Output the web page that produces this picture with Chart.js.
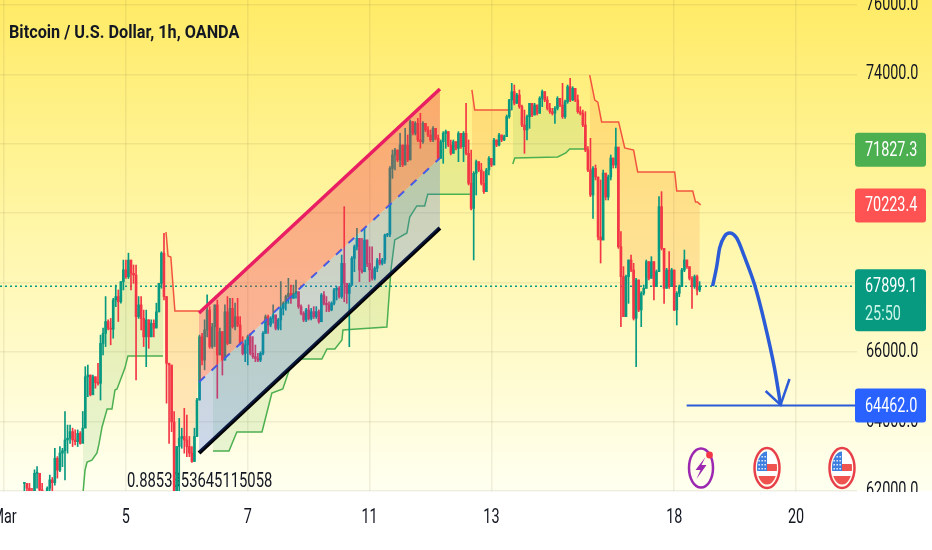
<!DOCTYPE html>
<html>
<head>
<meta charset="utf-8">
<title>Bitcoin / U.S. Dollar</title>
<script src="https://cdn.jsdelivr.net/npm/chart.js@4"></script>
<style>
    html, body { margin: 0; padding: 0; background: #fff; }
    canvas { display: block; }
</style>
</head>
<body>
<canvas id="chart" width="932" height="550"></canvas>
<script>
const titleText = "Bitcoin / U.S. Dollar, 1h, OANDA";
const noteText = "0.8853353645115058";
const firstBar = 8;

const barClose = [
    62220, 62080, 61980, 61880, 62510, 62510, 62030, 61880, 61840, 62080, 62320, 62240, 62940, 62600, 63090, 63160, 63470, 63520, 63710, 63470,
    63420, 63660, 63370, 63810, 65290, 65340, 64770, 65290, 65120, 65100, 66250, 66540, 66880, 66690, 66660, 67500, 67600, 67450, 68030, 68370,
    68170, 68650, 68270, 68220, 67020, 67360, 66970, 66440, 66930, 66440, 66830, 66690, 67160, 67980, 68850, 67600, 65680, 65630, 63990, 61840,
    63280, 63520, 63570, 63470, 63280, 63090, 62850, 63570, 64620, 66440, 65770, 66640, 67210, 66160, 66730, 67360, 65920, 66590, 65770, 67160,
    66250, 67260, 66730, 67020, 66780, 66250, 65960, 66205, 66445, 65965, 65870, 65820, 65770, 65965, 66540, 67020, 66780, 66970, 67070, 66685,
    66925, 67260, 67405, 67600, 67690, 67550, 67690, 67740, 67310, 67120, 66925, 67215, 66970, 67165, 67020, 67165, 66875, 67645, 67405, 67360,
    67215, 67405, 67790, 67835, 67600, 68555, 67980, 67690, 67930, 68700, 69035, 69275, 68365, 68315, 69230, 68555, 68365, 68125, 68415, 68650,
    68555, 68650, 69370, 69400, 71290, 71675, 71820, 71535, 71965, 71390, 71965, 71535, 72637, 72300, 72590, 72110, 72060, 72590, 72397, 72253,
    72110, 72445, 72157, 71580, 72060, 72300, 72350, 71965, 71725, 72060, 71870, 72300, 71917, 72300, 71725, 70860, 70140, 71150, 71485, 71245,
    70860, 70620, 71245, 71581, 71389, 72109, 71965, 72253, 72109, 72205, 72781, 73261, 73501, 73165, 73405, 73069, 72541, 72397, 72781, 73165,
    72829, 73117, 72877, 73309, 73501, 73261, 73021, 72925, 72877, 73021, 73309, 73117, 72781, 73213, 73645, 73261, 73597, 73261, 72925, 72877,
    72541, 71821, 71245, 70525, 71293, 71043, 69315, 69229, 71158, 70467, 71043, 71590, 71389, 71907, 69037, 68173, 67021, 68173, 68653, 68365,
    66973, 68077, 67213, 67693, 67837, 68605, 68125, 68605, 67885, 68317, 70189, 68989, 67837, 68365, 67885, 68365, 67213, 67693, 67885, 68365,
    68653, 68461, 68125, 67885, 68173, 67789, 67899
];
const barHigh = [
    62240, 62170, 62220, 62080, 62610, 62700, 62510, 62220, 61930, 62120, 62460, 62390, 63230, 62990, 63280, 63230, 64290, 63900, 63900, 63810,
    63760, 63760, 63710, 64290, 65580, 65630, 65340, 65340, 65290, 65680, 66490, 66690, 67600, 66930, 66970, 67550, 67930, 67790, 68030, 68650,
    68650, 68850, 68650, 68510, 68510, 67600, 67600, 67210, 67210, 66930, 66930, 66930, 67410, 67980, 68890, 69420, 67600, 65680, 65580, 64290,
    63280, 64090, 63810, 64380, 64190, 63570, 63280, 63810, 64670, 66490, 66540, 66930, 67650, 67310, 66830, 67360, 67500, 66690, 66590, 67360,
    67600, 67550, 67550, 67410, 67550, 67020, 66445, 66350, 66490, 66540, 66445, 66205, 65965, 66010, 66590, 67070, 67070, 67020, 67360, 67070,
    66970, 68030, 67450, 67645, 68125, 67930, 67930, 68075, 67740, 67360, 67165, 67260, 67360, 67260, 67310, 67310, 67215, 67690, 67740, 67600,
    67450, 67450, 67835, 67885, 67885, 68795, 70190, 67980, 67980, 68750, 69085, 69565, 69275, 69275, 69565, 69230, 69035, 69035, 68460, 68700,
    68845, 68700, 69400, 69420, 71340, 71820, 71870, 71820, 72300, 71965, 72445, 72253, 72685, 72637, 72637, 72733, 72877, 72637, 72590, 72493,
    72397, 72493, 72445, 72253, 72110, 72350, 72397, 72350, 72110, 72110, 72060, 72350, 72300, 72350, 73165, 72110, 71820, 71197, 71533, 71485,
    71437, 71197, 71293, 71629, 71581, 72157, 72109, 72301, 72253, 72253, 72829, 73280, 73741, 73693, 73453, 73549, 73117, 72973, 72829, 73165,
    73117, 73165, 73117, 73357, 73549, 73501, 73357, 73165, 73021, 73069, 73357, 73309, 73741, 73261, 73693, 73885, 73645, 73597, 73405, 73069,
    72973, 72925, 71917, 72157, 71341, 71389, 71043, 70957, 71245, 71043, 71100, 71677, 71590, 72454, 71878, 69469, 68461, 68221, 68653, 68797,
    68557, 68125, 68077, 67741, 67933, 68653, 68605, 68749, 68605, 68365, 70477, 70621, 68989, 68413, 68893, 68413, 68365, 67741, 67933, 68413,
    68941, 68653, 68461, 68173, 68221, 68221, 68029
];
const barLow = [
    61840, 61790, 61790, 61740, 61840, 62080, 61840, 61740, 61650, 61650, 61930, 61930, 62170, 62370, 62560, 62700, 62320, 63090, 63370, 63280,
    63330, 63280, 63350, 63520, 64040, 64720, 64740, 64860, 64960, 65050, 64620, 65920, 66160, 66640, 66210, 66400, 67310, 66880, 67410, 67790,
    68120, 68120, 67790, 67980, 65200, 66970, 66640, 66160, 65580, 66110, 66440, 66440, 66730, 67160, 67840, 67500, 64530, 63370, 63710, 61550,
    61550, 61930, 63230, 63090, 62990, 62990, 62820, 62850, 63570, 64620, 65630, 65490, 66440, 66110, 66110, 66160, 64670, 65920, 65340, 65770,
    66210, 66250, 66690, 66640, 66730, 66210, 65920, 65725, 65630, 65920, 65820, 65725, 65725, 65725, 65920, 66540, 66540, 66730, 66830, 66640,
    66640, 66640, 67070, 67210, 67405, 67405, 67550, 67550, 67260, 67070, 66875, 66875, 66925, 66925, 66970, 66970, 66830, 66875, 67360, 67165,
    67165, 67190, 67360, 67500, 67550, 67550, 67450, 67405, 66155, 67930, 68315, 68940, 68030, 68270, 68315, 68460, 68030, 68075, 68075, 68315,
    68510, 68510, 68555, 69325, 69325, 71005, 71245, 71485, 71340, 71340, 71390, 71485, 71535, 72253, 72253, 72060, 71870, 72013, 72350, 72205,
    72060, 72060, 72110, 71533, 71580, 71437, 71870, 71917, 71677, 71725, 71820, 71485, 71870, 71485, 71677, 70813, 70093, 68653, 70525, 71197,
    70813, 70573, 70620, 71101, 71341, 71389, 71917, 71936, 72061, 72090, 72205, 72733, 72973, 73117, 73165, 73021, 72493, 71725, 72109, 72445,
    72781, 72829, 72829, 72877, 73069, 73213, 72973, 72877, 72829, 72589, 72973, 73069, 72733, 72733, 73165, 73213, 73242, 73213, 72877, 72829,
    72493, 71773, 71197, 70477, 69853, 70957, 69229, 68566, 69229, 70381, 70381, 70957, 71302, 71302, 68989, 66733, 67021, 67069, 67405, 68317,
    66925, 65581, 67165, 66733, 67645, 67837, 68077, 68125, 67501, 67885, 68317, 68941, 67405, 67837, 67837, 67885, 67194, 66781, 67597, 67885,
    68317, 68413, 68077, 67261, 67837, 67645, 67741
];

const greenTrendX = [31.1, 31.9, 32.7, 34.6, 36.6, 37.4, 38.6, 40.6, 42.5, 43.7, 44.5, 47.6, 48.8, 62.6, 70, 82.3, 88.6, 91.7, 101.6, 103.5, 105.5, 109.8, 112.6, 115.7, 125.2, 127.2, 130.3, 133.1, 133.5, 139, 150.8, 152.4, 153.9, 158.7, 159.8, 162.6, 165.7, 166.9, 183.5, 190, 200.4, 201.2, 218.1, 221.3, 222.8, 229.5];
const greenTrendY = [61940, 62605, 62835, 62890, 63095, 63355, 63845, 64360, 64360, 64910, 64940, 65540, 65890, 65890, null, 63150, 63150, 63700, 63700, 64245, 64820, 64940, 65540, 65800, 65800, 66090, 66090, 66350, 66640, 66665, 66725, 68365, 69230, 69430, 69890, 70210, 70210, 70550, 70550, null, 71420, 71590, 71620, 71735, 71850, 71850];
const redTrendX = [63.8, 64.6, 65.7, 67.3, 76.8, 80, 184.3, 185.4, 199.6, 215, 230.7, 232.7, 233.9, 235.4, 242.1, 244.5, 248, 249.6, 264.2, 265, 271.3, 272.4, 273.2, 274.4];
const redTrendY = [69460, 68770, 68740, 67185, 67185, null, 73550, 72975, 72975, null, 73980, 73260, 73200, 72630, 72630, 71880, 71820, 71190, 71190, 70640, 70640, 70320, 70320, 70240];

const channelX = [76.8, 171.7];
const channelTop = [67126, 73578];
const channelMid = [65139, 71590];
const channelBottom = [63094, 69574];

const forecastX = [279.1, 280.7, 281.9, 283.9, 285.8, 288.6, 291.7, 295.7, 299.6, 303.5, 305.9];
const forecastY = [67900, 68450, 69000, 69345, 69430, 69285, 68740, 67930, 66840, 65540, 64480];
const arrowX = [300, 305.9, 309.4];
const arrowY = [64880, 64480, 65225];
const targetX = [268.9, 336];
const targetPrice = 64462.0;
const lastPriceX = [-1.6, 336];
const lastPrice = 67899.1;

const yTicks = [62000, 64000, 66000, 68000, 70000, 72000, 74000, 76000];
const xTickBars = [0, 48, 96, 144, 192, 264, 312];
const xTickLabels = ["Mar", "5", "7", "11", "13", "18", "20"];

const priceLabels = ["71827.3", "70223.4", "67899.1", "64462.0"];
const priceLabelColors = ["#4caf50", "#ff5252", "#089981", "#2962ff"];
const countdownText = "25:50";

const bullColor = "#089981";
const bearColor = "#f23645";
const labelFont = "20px Roboto, sans-serif";
const labelSqueeze = 0.72;

const toPoints = (xs, ys) => xs.map((x, i) => ({x: x, y: ys[i]}));

const closePoints = barClose.map((c, i) => ({x: firstBar + i, y: c}));
const bodyPoints = barClose.map((c, i) => ({x: firstBar + i, y: [i > 0 ? barClose[i - 1] : c, c]}));
const wickPoints = barClose.map((c, i) => ({x: firstBar + i, y: [barLow[i], barHigh[i]]}));
const barColors = barClose.map((c, i) => (i > 0 && c < barClose[i - 1]) ? bearColor : bullColor);

// the reference text is tall and condensed, no installed font has that shape
const drawNarrowText = (ctx, text, x, y, color, font, squeeze, align) => {
    ctx.save();
    ctx.translate(x, y);
    ctx.scale(squeeze, 1);
    ctx.font = font;
    ctx.fillStyle = color;
    ctx.textAlign = align || "left";
    ctx.textBaseline = "middle";
    ctx.fillText(text, 0, 0);
    ctx.restore();
}

const drawPill = (ctx, x, y, w, h, color) => {
    ctx.fillStyle = color;
    ctx.beginPath();
    ctx.roundRect(x, y, w, h, 3);
    ctx.fill();
}

const drawFlagIcon = (ctx, cx, cy) => {
    ctx.save();
    ctx.fillStyle = "#fffdf0";
    ctx.strokeStyle = "#e8404a";
    ctx.lineWidth = 2.5;
    ctx.beginPath();
    ctx.ellipse(cx, cy, 12.5, 20, 0, 0, Math.PI * 2);
    ctx.fill();
    ctx.stroke();

    ctx.beginPath();
    ctx.ellipse(cx, cy, 10, 16.5, 0, 0, Math.PI * 2);
    ctx.clip();
    ctx.fillStyle = "#fff";
    ctx.fillRect(cx - 11, cy - 17, 22, 34);
    ctx.fillStyle = "#ef5350";
    ctx.fillRect(cx, cy - 4, 11, 7);
    ctx.fillRect(cx - 11, cy + 8, 22, 9);
    ctx.fillStyle = "#3f7fe0";
    ctx.fillRect(cx - 11, cy - 17, 11, 20);
    ctx.fillStyle = "#fff";
    for (let row = 0; row < 4; row++) {
        for (let col = 0; col < 3; col++) {
            ctx.fillRect(cx - 8.5 + col * 3, cy - 12 + row * 4, 1.3, 1.5);
        }
    }
    ctx.restore();
}

const drawBoltIcon = (ctx, cx, cy) => {
    ctx.save();
    ctx.strokeStyle = "#9c27b0";
    ctx.lineWidth = 2.5;
    ctx.beginPath();
    ctx.ellipse(cx, cy, 12, 19.5, 0, 0, Math.PI * 2);
    ctx.stroke();
    ctx.fillStyle = "#9c27b0";
    ctx.beginPath();
    ctx.moveTo(cx + 4.5, cy - 11);
    ctx.lineTo(cx - 5.5, cy + 2);
    ctx.lineTo(cx - 0.5, cy + 2);
    ctx.lineTo(cx - 4.5, cy + 11);
    ctx.lineTo(cx + 5.5, cy - 3);
    ctx.lineTo(cx + 0.5, cy - 3);
    ctx.closePath();
    ctx.fill();
    ctx.fillStyle = "#f23645";
    ctx.beginPath();
    ctx.arc(cx + 8.5, cy - 13, 3.4, 0, Math.PI * 2);
    ctx.fill();
    ctx.restore();
}

const chartDecor = {
    id: "chartDecor",
    beforeDraw(chart) {
        const ctx = chart.ctx;
        const bottom = chart.chartArea.bottom;
        const bg = ctx.createLinearGradient(0, 0, 0, bottom);
        bg.addColorStop(0, "#ffeb66");
        bg.addColorStop(0.5, "#fff7ad");
        bg.addColorStop(1, "#fffff0");
        ctx.fillStyle = "#ffffff";
        ctx.fillRect(0, 0, chart.width, chart.height);
        ctx.fillStyle = bg;
        ctx.fillRect(0, 0, chart.width, bottom);
    },
    beforeDatasetsDraw(chart) {
        drawNarrowText(chart.ctx, noteText, 127, 482, "#131722", labelFont, 0.74);
    },
    afterDatasetsDraw(chart) {
        const ctx = chart.ctx;
        const xScale = chart.scales.x;
        const yScale = chart.scales.y;
        const area = chart.chartArea;

        yTicks.forEach((value) => {
            drawNarrowText(ctx, value.toFixed(1), 866, yScale.getPixelForValue(value), "#131722", labelFont, labelSqueeze);
        });
        // axis labels are cut off at the bottom edge of the pane
        ctx.fillStyle = "#ffffff";
        ctx.fillRect(0, area.bottom + 1, chart.width, chart.height - area.bottom);
        xTickBars.forEach((bar, i) => {
            drawNarrowText(ctx, xTickLabels[i], xScale.getPixelForValue(bar), 518, "#131722", labelFont, labelSqueeze, "center");
        });

        priceLabels.forEach((label, i) => {
            const y = yScale.getPixelForValue(parseFloat(label));
            const height = i == 2 ? 62 : 34;
            drawPill(ctx, 855, y - 17, 71, height, priceLabelColors[i]);
            drawNarrowText(ctx, label, 865, y + 1, "#ffffff", labelFont, labelSqueeze);
            if (i == 2) {
                drawNarrowText(ctx, countdownText, 865, y + 29, "#c9f5e6", labelFont, labelSqueeze);
            }
        });
        drawNarrowText(ctx, titleText, 9, 33, "#131722", "bold 19px Roboto, sans-serif", 0.855);

        drawBoltIcon(ctx, 701, 468);
        drawFlagIcon(ctx, 767, 468);
        drawFlagIcon(ctx, 842, 468);
    }
};

new Chart(document.getElementById("chart"), {
    type: "line",
    plugins: [chartDecor],
    data: {
        datasets: [
            {
                // hidden close line, the trend fills stop against it
                data: closePoints,
                borderWidth: 0,
                pointRadius: 0,
                borderColor: "transparent",
                order: 9
            },
            {
                data: toPoints(greenTrendX, greenTrendY),
                borderColor: "#4caf50",
                borderWidth: 1.5,
                pointRadius: 0,
                tension: 0,
                fill: {target: 0, above: "rgba(76, 175, 80, 0.13)", below: "rgba(76, 175, 80, 0.13)"},
                order: 8
            },
            {
                data: toPoints(redTrendX, redTrendY),
                borderColor: "#f2553f",
                borderWidth: 1.5,
                pointRadius: 0,
                tension: 0,
                fill: {target: 0, above: "rgba(255, 152, 60, 0.22)", below: "rgba(255, 152, 60, 0.22)"},
                order: 7
            },
            {
                data: toPoints(lastPriceX, [lastPrice, lastPrice]),
                borderColor: bullColor,
                borderWidth: 1.5,
                borderDash: [2, 3],
                pointRadius: 0,
                order: 6
            },
            {
                type: "bar",
                data: wickPoints,
                backgroundColor: barColors,
                barThickness: 1,
                grouped: false,
                order: 5
            },
            {
                type: "bar",
                data: bodyPoints,
                backgroundColor: barColors,
                barThickness: 2,
                minBarLength: 1,
                grouped: false,
                order: 4
            },
            {
                data: toPoints(channelX, channelTop),
                borderColor: "#e91e63",
                borderWidth: 3.5,
                pointRadius: 0,
                fill: {target: "+1", above: "rgba(242, 54, 69, 0.36)", below: "rgba(242, 54, 69, 0.36)"},
                order: 3
            },
            {
                data: toPoints(channelX, channelMid),
                borderColor: "#2962ff",
                borderWidth: 2,
                borderDash: [8, 9],
                pointRadius: 0,
                fill: {target: "+1", above: "rgba(41, 98, 255, 0.24)", below: "rgba(41, 98, 255, 0.24)"},
                order: 3
            },
            {
                data: toPoints(channelX, channelBottom),
                borderColor: "#000000",
                borderWidth: 4,
                pointRadius: 0,
                order: 3
            },
            {
                data: toPoints(targetX, [targetPrice, targetPrice]),
                borderColor: "#2b5bd7",
                borderWidth: 2,
                pointRadius: 0,
                order: 2
            },
            {
                data: toPoints(forecastX, forecastY),
                borderColor: "#2b5bd7",
                borderWidth: 3.5,
                pointRadius: 0,
                cubicInterpolationMode: "monotone",
                order: 1
            },
            {
                data: toPoints(arrowX, arrowY),
                borderColor: "#2b5bd7",
                borderWidth: 2.5,
                pointRadius: 0,
                order: 1
            }
        ]
    },
    options: {
        responsive: false,
        animation: false,
        spanGaps: false,
        layout: {padding: 0},
        plugins: {
            legend: {display: false},
            title: {display: false},
            tooltip: {enabled: false}
        },
        scales: {
            x: {
                type: "linear",
                offset: false,
                min: -1.6,
                max: 336,
                grid: {offset: false, color: "rgba(110, 100, 60, 0.1)", lineWidth: 1.5, drawTicks: false},
                border: {display: false},
                afterBuildTicks(scale) {
                    scale.ticks = xTickBars.map(v => ({value: v}));
                },
                afterFit(scale) {
                    scale.height = 59;
                    scale.paddingLeft = 0;
                    scale.paddingRight = 0;
                },
                ticks: {
                    autoSkip: false,
                    maxRotation: 0,
                    color: "transparent",
                    callback: (value) => xTickLabels[xTickBars.indexOf(value)]
                }
            },
            y: {
                position: "right",
                min: 62000,
                max: 76141,
                grid: {color: "rgba(110, 100, 60, 0.1)", lineWidth: 1.5, drawTicks: false},
                border: {display: false},
                afterBuildTicks(scale) {
                    scale.ticks = yTicks.map(v => ({value: v}));
                },
                afterFit(scale) {
                    scale.width = 75;
                    scale.paddingTop = 0;
                    scale.paddingBottom = 0;
                },
                ticks: {
                    color: "transparent",
                    callback: (value) => value.toFixed(1)
                }
            }
        }
    }
});
</script>
</body>
</html>
